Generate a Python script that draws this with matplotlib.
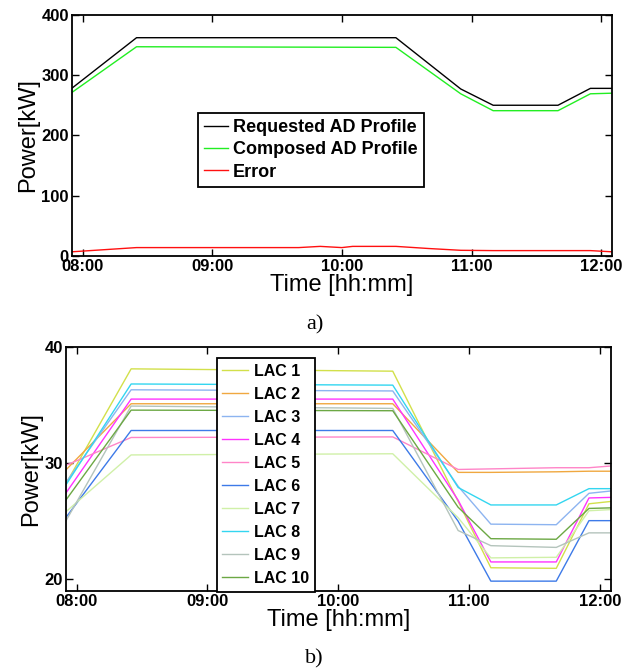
import pandas as pd
import matplotlib
matplotlib.use('Agg')
from matplotlib import pyplot as plt
import matplotlib.dates as mdates

plt.rcParams['font.family'] = ['Liberation Sans', 'DejaVu Sans']

day = '2014-01-01 '

# top chart: requested vs composed profile
t_top = ['07:55', '08:25', '10:25', '10:55', '11:10', '11:40', '11:55', '12:05']
requested = [278, 362, 362, 277, 250, 250, 278, 278]
composed = [271, 347, 346, 269, 241, 241, 269, 270]

t_err = ['07:55', '08:25', '09:40', '09:50', '10:00', '10:05', '10:25', '10:40',
         '10:55', '11:10', '11:55', '12:05']
error = [7, 14, 14, 16, 14, 16, 16, 12.5, 9.5, 9, 9, 7]

# bottom chart: LAC contributions
t_lac = ['07:55', '08:25', '10:25', '10:55', '11:10', '11:40', '11:55', '12:05']
lac_names = ['LAC 1', 'LAC 2', 'LAC 3', 'LAC 4', 'LAC 5',
             'LAC 6', 'LAC 7', 'LAC 8', 'LAC 9', 'LAC 10']
lac1 = [28.2, 38.1, 37.9, 26.7, 21.0, 20.95, 26.5, 26.7]
lac2 = [29.4, 35.1, 35.1, 29.2, 29.2, 29.25, 29.3, 29.3]
lac3 = [28.3, 36.3, 36.2, 28.0, 24.75, 24.7, 27.4, 27.6]
lac4 = [27.4, 35.5, 35.5, 26.8, 21.5, 21.5, 27.0, 27.05]
lac5 = [29.8, 32.2, 32.25, 29.45, 29.5, 29.6, 29.6, 29.75]
lac6 = [25.3, 32.8, 32.8, 25.0, 19.85, 19.85, 25.05, 25.05]
lac7 = [25.8, 30.7, 30.8, 25.3, 21.85, 21.9, 25.9, 26.0]
lac8 = [28.1, 36.8, 36.7, 27.9, 26.4, 26.4, 27.8, 27.8]
lac9 = [25.0, 34.9, 34.7, 24.2, 22.9, 22.75, 24.0, 24.0]
lac10 = [26.8, 34.55, 34.5, 26.2, 23.5, 23.45, 26.1, 26.15]
lac_colors = ['#d2e04a', '#f0a840', '#8db4f0', '#ff33ff', '#ff85c8',
              '#3d7ae8', '#d0f0a8', '#33d6f0', '#b4c4bc', '#6ca844']


def to_dt(ts):
    return pd.to_datetime([day + t for t in ts])


def style_axes(ax):
    ax.set_xlim(pd.Timestamp(day + '07:55'), pd.Timestamp(day + '12:05'))
    ax.xaxis.set_major_locator(mdates.HourLocator())
    ax.xaxis.set_major_formatter(mdates.DateFormatter('%H:%M'))
    ax.tick_params(direction='in', top=True, right=True, length=5, width=1,
                   labelsize=12, pad=2)
    for lab in ax.get_xticklabels() + ax.get_yticklabels():
        lab.set_fontweight('bold')
    for sp in ax.spines.values():
        sp.set_linewidth(1.3)
    ax.set_xlabel('Time [hh:mm]', fontsize=17, labelpad=0)
    ax.set_ylabel('Power[kW]', fontsize=17, labelpad=2)


fig = plt.figure(figsize=(6.29, 6.72), dpi=100)

# ---- a) ----
ax1 = fig.add_axes([0.114, 0.619, 0.859, 0.359])
ax1.plot(to_dt(t_top), requested, color='black', lw=1.0, label='Requested AD Profile')
ax1.plot(to_dt(t_top), composed, color='#22ee22', lw=1.0, label='Composed AD Profile')
ax1.plot(to_dt(t_err), error, color='#ff1010', lw=1.0, label='Error')
ax1.set_ylim(0, 400)
ax1.set_yticks([0, 100, 200, 300, 400])
style_axes(ax1)
leg1 = ax1.legend(loc='center', bbox_to_anchor=(0.443, 0.44), fancybox=False,
                  edgecolor='black', framealpha=1, prop={'weight': 'bold', 'size': 13},
                  handlelength=1.3, handletextpad=0.3, labelspacing=0.3,
                  borderpad=0.35, borderaxespad=0)
leg1.get_frame().set_linewidth(1.3)

# ---- b) ----
ax2 = fig.add_axes([0.1045, 0.1205, 0.8665, 0.3635])
for name, vals, c in zip(lac_names, [lac1, lac2, lac3, lac4, lac5, lac6, lac7, lac8, lac9, lac10], lac_colors):
    ax2.plot(to_dt(t_lac), vals, color=c, lw=1.0, label=name)
ax2.set_ylim(19, 40)
ax2.set_yticks([20, 30, 40])
style_axes(ax2)
leg2 = ax2.legend(loc='center', bbox_to_anchor=(0.3675, 0.475), fancybox=False,
                  edgecolor='black', framealpha=1, prop={'weight': 'bold', 'size': 11.5},
                  handlelength=1.6, handletextpad=0.4, labelspacing=0.5,
                  borderpad=0.35, borderaxespad=0)
leg2.get_frame().set_linewidth(1.3)

fig.text(0.5, 1 - 325 / 672, 'a)', ha='center', va='center', fontsize=16,
         family='Liberation Serif')
fig.text(0.5, 1 - 659 / 672, 'b)', ha='center', va='center', fontsize=16,
         family='Liberation Serif')

fig.savefig('out.png', dpi=100)
